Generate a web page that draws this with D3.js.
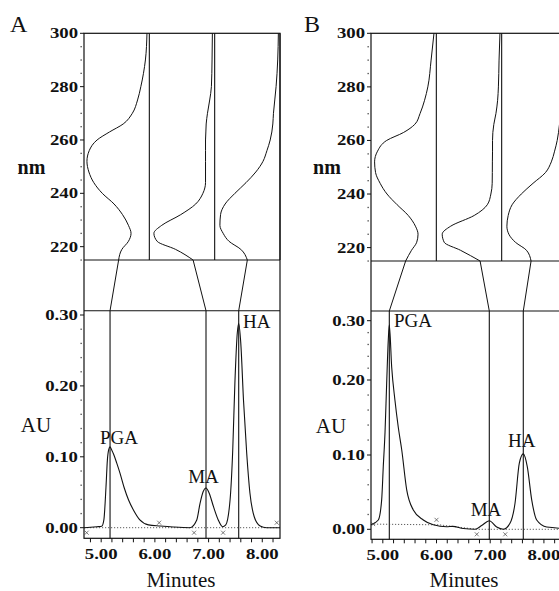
<!DOCTYPE html>
<html>
<head>
<meta charset="utf-8">
<script src="https://cdn.jsdelivr.net/npm/d3@7"></script>
<style>
body { margin: 0; background: #fff; }
</style>
</head>
<body>
<script>
// wavelength grid shared by all spectra (nm)
var nmGrid = [300, 290, 280, 275, 270, 266, 263, 260, 256, 252, 248, 244, 240, 236, 232, 228, 225, 222, 219, 215];

// relative absorbance of each spectrum on nmGrid
var specA_PGA = [0.036, 0.06, 0.13, 0.18, 0.26, 0.40, 0.61, 0.80, 0.92, 0.955, 0.925, 0.85, 0.72, 0.54, 0.41, 0.32, 0.28, 0.32, 0.42, 0.47];
var specA_MA  = [0.035, 0.04, 0.05, 0.076, 0.11, 0.13, 0.135, 0.14, 0.14, 0.14, 0.14, 0.14, 0.18, 0.29, 0.52, 0.81, 0.93, 0.88, 0.60, 0.33];
var specA_HA  = [0.025, 0.035, 0.06, 0.08, 0.10, 0.11, 0.125, 0.15, 0.20, 0.26, 0.37, 0.52, 0.69, 0.84, 0.91, 0.92, 0.87, 0.78, 0.60, 0.50];
var specB_PGA = [0.036, 0.08, 0.13, 0.18, 0.25, 0.33, 0.50, 0.76, 0.90, 0.945, 0.93, 0.86, 0.755, 0.60, 0.43, 0.32, 0.28, 0.30, 0.38, 0.47];
var specB_MA  = [0.026, 0.04, 0.05, 0.062, 0.088, 0.12, 0.135, 0.14, 0.14, 0.142, 0.143, 0.145, 0.165, 0.22, 0.42, 0.78, 0.91, 0.88, 0.63, 0.33];
var specB_HA  = [0.03, 0.04, 0.06, 0.08, 0.10, 0.115, 0.13, 0.15, 0.19, 0.24, 0.33, 0.52, 0.70, 0.84, 0.90, 0.92, 0.89, 0.79, 0.62, 0.55];

// chromatogram A (minutes, AU)
var timeA = [4.68, 4.92, 5.01, 5.05, 5.09, 5.115, 5.14, 5.165, 5.2, 5.23, 5.29, 5.35, 5.43, 5.51, 5.6, 5.72, 5.88, 6.1, 6.34, 6.65,
             6.78, 6.84, 6.9, 6.952, 7.01, 7.09, 7.18, 7.26, 7.32, 7.4, 7.45, 7.49, 7.535, 7.561, 7.6, 7.65, 7.71, 7.77, 7.85, 7.96, 8.08, 8.33];
var auA   = [0.000, 0.0014, 0.002, 0.011, 0.058, 0.095, 0.11, 0.114, 0.109, 0.104, 0.091, 0.077, 0.056, 0.039, 0.025, 0.011, 0.004, 0.0024, 0.001, 0.0,
             0.011, 0.034, 0.051, 0.056, 0.049, 0.03, 0.011, 0.0014, 0.004, 0.039, 0.11, 0.204, 0.275, 0.288, 0.26, 0.18, 0.105, 0.049, 0.0155, 0.0024, 0.0, 0.0];

// chromatogram B (minutes, AU)
var timeB = [4.78, 4.916, 4.979, 5.009, 5.041, 5.072, 5.102, 5.121, 5.165, 5.226, 5.288, 5.352, 5.445, 5.568, 5.754, 5.94, 6.19, 6.3, 6.499, 6.717,
             6.841, 6.983, 7.121, 7.244, 7.368, 7.462, 7.542, 7.616, 7.691, 7.772, 7.866, 8.052, 8.43];
var auB   = [0.006, 0.0125, 0.04, 0.085, 0.13, 0.196, 0.268, 0.293, 0.222, 0.173, 0.137, 0.107, 0.053, 0.026, 0.0125, 0.006, 0.0035, 0.004, 0.001, 0.0,
             0.005, 0.0115, 0.003, 0.0, 0.008, 0.035, 0.089, 0.1015, 0.084, 0.04, 0.0125, 0.003, 0.001];

// peaks
var peakNames = ["PGA", "MA", "HA"];
var rtA = [5.165, 6.952, 7.561];
var rtB = [5.121, 6.983, 7.616];
var peakA = [0.114, 0.056, 0.288];
var peakB = [0.293, 0.0115, 0.1015];

// integration baselines and event marks
var baseTimeA = [4.68, 8.33];
var baseAuA = [0, 0];
var baseTimeB = [4.78, 6.05, 6.75, 8.43];
var baseAuB = [0.007, 0.006, 0.0, 0.0];
var markTimeA = [4.73, 6.08, 6.73, 7.27, 8.27];
var markSideA = [1, -1, 1, 1, -1];
var markTimeB = [4.82, 6.0, 6.75, 7.28];
var markSideB = [0, -1, 1, 1];

// tick labels
var nmTicks = [220, 240, 260, 280, 300];
var auTicks = [0, 0.1, 0.2, 0.3];
var minTicks = [5, 6, 7, 8];

var w = 559, h = 591;
var svg = d3.select("body").append("svg")
    .attr("width", w)
    .attr("height", h)
    .style("font-family", "'Liberation Serif', 'Times New Roman', serif");

var panels = [
    {
        letter: "A", letterX: 10,
        left: 84, right: 280, top: 33.3, specBottom: 260, chromTop: 310.7, bottom: 538.3,
        spectra: [specA_PGA, specA_MA, specA_HA],
        time: timeA, au: auA, rt: rtA, peak: peakA,
        baseTime: baseTimeA, baseAu: baseAuA, markTime: markTimeA, markSide: markSideA,
        minDomain: [4.68, 8.33], auDomain: [0, 0.3], auRange: [527.7, 315],
        nmX: 31.5, auX: 36, minutesX: 181,
        lab: [[9, -3, "middle"], [-2.5, -5, "middle"], [4.4, 4.5, "start"]]
    },
    {
        letter: "B", letterX: 304,
        left: 371, right: 567, top: 33.3, specBottom: 261, chromTop: 311, bottom: 539.3,
        spectra: [specB_PGA, specB_MA, specB_HA],
        time: timeB, au: auB, rt: rtB, peak: peakB,
        baseTime: baseTimeB, baseAu: baseAuB, markTime: markTimeB, markSide: markSideB,
        minDomain: [4.78, 8.43], auDomain: [0, 0.1, 0.2, 0.3], auRange: [529.3, 455, 380, 320.7],
        nmX: 327, auX: 331, minutesX: 464,
        lab: [[4.7, 2.5, "start"], [-3.3, -5, "middle"], [-1.6, -6.7, "middle"]]
    }
];

function stretchLabel(g, x, y, txt, anchor) {
    g.append("text")
        .attr("transform", "translate(" + x + "," + y + ") scale(1.25,1)")
        .attr("text-anchor", anchor)
        .attr("font-size", 15)
        .attr("font-weight", "bold")
        .attr("fill", "#111")
        .text(txt);
}

panels.forEach(function (p) {
    var g = svg.append("g");
    var pw = p.right - p.left;
    var third = pw / 3;

    var nm = d3.scaleLinear().domain([215, 300]).range([p.specBottom, p.top]);
    var x = d3.scaleLinear().domain(p.minDomain).range([p.left, p.right]);
    var y = d3.scaleLinear().domain(p.auDomain).range(p.auRange);

    // frame
    g.append("rect")
        .attr("x", p.left).attr("y", p.top)
        .attr("width", pw).attr("height", p.bottom - p.top)
        .attr("fill", "none").attr("stroke", "#111").attr("stroke-width", 1.2);
    [p.specBottom, p.chromTop].forEach(function (yy) {
        g.append("line")
            .attr("x1", p.left).attr("x2", p.right)
            .attr("y1", yy).attr("y2", yy)
            .attr("stroke", "#111").attr("stroke-width", 1.1);
    });

    // spectra, each in its own third with the zero line on its right side
    p.spectra.forEach(function (spec, i) {
        var base = p.left + (i + 1) * third;
        var ax = d3.scaleLinear().domain([0, 1]).range([base, base - third]);
        g.append("line")
            .attr("x1", base).attr("x2", base)
            .attr("y1", p.top).attr("y2", p.specBottom)
            .attr("stroke", "#111").attr("stroke-width", 1.1);
        var line = d3.line()
            .x(function (d, j) { return ax(spec[j]); })
            .y(function (d) { return nm(d); })
            .curve(d3.curveMonotoneY);
        g.append("path")
            .attr("d", line(nmGrid))
            .attr("fill", "none").attr("stroke", "#111").attr("stroke-width", 1);

        // connector to the peak in the chromatogram, then the peak marker
        var last = nmGrid.length - 1;
        g.append("line")
            .attr("x1", ax(spec[last])).attr("y1", nm(nmGrid[last]))
            .attr("x2", x(p.rt[i])).attr("y2", p.chromTop)
            .attr("stroke", "#111").attr("stroke-width", 1);
        g.append("line")
            .attr("x1", x(p.rt[i])).attr("x2", x(p.rt[i]))
            .attr("y1", p.chromTop).attr("y2", p.bottom)
            .attr("stroke", "#111").attr("stroke-width", 1.1);
    });

    // baseline (dotted)
    var bl = d3.line()
        .x(function (d, j) { return x(d); })
        .y(function (d, j) { return y(p.baseAu[j]); });
    g.append("path")
        .attr("d", bl(p.baseTime))
        .attr("fill", "none").attr("stroke", "#333").attr("stroke-width", 0.8)
        .attr("stroke-dasharray", "1.2,1.8");

    // chromatogram trace
    var tr = d3.line()
        .x(function (d) { return x(d); })
        .y(function (d, j) { return y(p.au[j]); })
        .curve(d3.curveMonotoneX);
    g.append("path")
        .attr("d", tr(p.time))
        .attr("fill", "none").attr("stroke", "#111").attr("stroke-width", 1.1);

    // integration marks
    p.markTime.forEach(function (t, j) {
        var bx = x(t);
        var by = y(d3.scaleLinear().domain(p.baseTime).range(p.baseAu)(t)) + p.markSide[j] * 5;
        g.append("path")
            .attr("d", "M" + (bx - 2) + "," + (by - 2) + "L" + (bx + 2) + "," + (by + 2) +
                       "M" + (bx + 2) + "," + (by - 2) + "L" + (bx - 2) + "," + (by + 2))
            .attr("stroke", "#444").attr("stroke-width", 0.7);
    });

    // peak labels
    peakNames.forEach(function (name, i) {
        g.append("text")
            .attr("x", x(p.rt[i]) + p.lab[i][0])
            .attr("y", y(p.peak[i]) + p.lab[i][1])
            .attr("text-anchor", p.lab[i][2])
            .attr("font-size", 19)
            .attr("fill", "#111")
            .text(name);
    });

    // nm axis
    nmTicks.forEach(function (t) {
        g.append("line")
            .attr("x1", p.left - 4).attr("x2", p.left)
            .attr("y1", nm(t)).attr("y2", nm(t))
            .attr("stroke", "#111").attr("stroke-width", 1);
        stretchLabel(g, p.left - 6, nm(t) + 5, t, "end");
    });
    d3.range(215, 301, 5).filter(function (t) { return t % 20 !== 0; }).forEach(function (t) {
        g.append("rect")
            .attr("x", p.left - 3.5).attr("y", nm(t) - 0.6)
            .attr("width", 1.3).attr("height", 1.3).attr("fill", "#444");
    });

    // AU axis
    auTicks.forEach(function (t) {
        g.append("line")
            .attr("x1", p.left - 4).attr("x2", p.left)
            .attr("y1", y(t)).attr("y2", y(t))
            .attr("stroke", "#111").attr("stroke-width", 1);
        stretchLabel(g, p.left - 6, y(t) + 5, t.toFixed(2), "end");
    });
    d3.range(1, 15).map(function (k) { return k * 0.02; })
        .filter(function (_, k) { return (k + 1) % 5 !== 0; })
        .forEach(function (t) {
            g.append("rect")
                .attr("x", p.left - 3.5).attr("y", y(t) - 0.6)
                .attr("width", 1.3).attr("height", 1.3).attr("fill", "#444");
        });

    // minutes axis
    d3.range(4.8, 8.41, 0.2).filter(function (t) {
        return t >= p.minDomain[0] && t <= p.minDomain[1];
    }).forEach(function (t) {
        g.append("line")
            .attr("x1", x(t)).attr("x2", x(t))
            .attr("y1", p.bottom).attr("y2", p.bottom + 4)
            .attr("stroke", "#111").attr("stroke-width", 1);
    });
    minTicks.forEach(function (t) {
        stretchLabel(g, x(t), p.bottom + 21, t.toFixed(2), "middle");
    });

    // titles
    g.append("text")
        .attr("x", p.nmX).attr("y", 173.5)
        .attr("text-anchor", "middle")
        .attr("font-size", 20).attr("font-weight", "bold").attr("fill", "#111")
        .text("nm");
    g.append("text")
        .attr("x", p.auX).attr("y", p.bottom - 106)
        .attr("text-anchor", "middle")
        .attr("font-size", 21).attr("fill", "#111")
        .text("AU");
    g.append("text")
        .attr("x", p.minutesX).attr("y", 586.5)
        .attr("text-anchor", "middle")
        .attr("font-size", 21).attr("fill", "#111")
        .text("Minutes");
    g.append("text")
        .attr("x", p.letterX).attr("y", 32)
        .attr("font-size", 24).attr("fill", "#111")
        .text(p.letter);
});
</script>
</body>
</html>
